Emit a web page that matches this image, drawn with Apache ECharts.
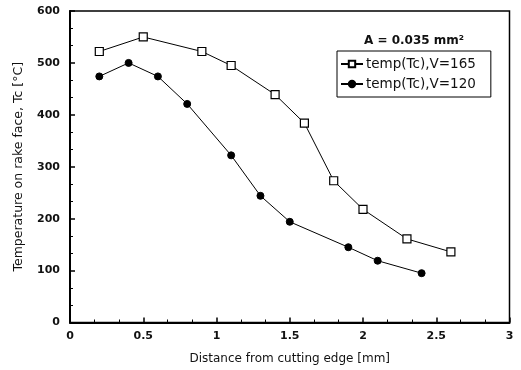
<!DOCTYPE html>
<html><head><meta charset="utf-8">
<script src="https://cdn.jsdelivr.net/npm/echarts@6/dist/echarts.min.js"></script>
<style>html,body{margin:0;padding:0;background:#fff}#c{width:521px;height:370px}</style>
</head><body><div id="c"></div>
<script>
const xV165 = [0.2, 0.5, 0.9, 1.1, 1.4, 1.6, 1.8, 2.0, 2.3, 2.6];
const yV165 = [522, 550, 522, 495, 439, 384, 273, 218, 161, 136];
const xV120 = [0.2, 0.4, 0.6, 0.8, 1.1, 1.3, 1.5, 1.9, 2.1, 2.4];
const yV120 = [474, 500, 474, 421, 322, 244, 194, 145, 119, 95];
const seriesNames = ['temp(Tc),V=165', 'temp(Tc),V=120'];
const xLabels = ['0', '0.5', '1', '1.5', '2', '2.5', '3'];
const yLabels = ['0', '100', '200', '300', '400', '500', '600'];
const titleText = 'A = 0.035 mm²';
const xTitle = 'Distance from cutting edge [mm]';
const yTitle = 'Temperature on rake face, Tc [°C]';

const font = 'DejaVu Sans';
const chart = echarts.init(document.getElementById('c'));
chart.setOption({
  animation: false,
  backgroundColor: '#fff',
  title: {
    text: titleText, left: 414, top: 35, textAlign: 'center', padding: 0,
    textStyle: {fontFamily: font, fontSize: 12, fontWeight: 'bold', color: '#111'}
  },
  legend: {
    orient: 'vertical', left: 337, top: 51,
    padding: [6, 15, 6, 3], itemGap: 6, itemWidth: 22, itemHeight: 8,
    borderColor: '#000', borderWidth: 1,
    data: seriesNames,
    textStyle: {fontFamily: font, fontSize: 13.5, color: '#111', padding: [0,0,0,-2]}
  },
  grid: {left: 70, right: 11.5, top: 11, bottom: 47.5, show: true, borderColor: '#000', borderWidth: 1.5},
  xAxis: {
    type: 'value', min: 0, max: 3, interval: 0.5,
    name: xTitle, nameLocation: 'middle', nameGap: 30,
    nameTextStyle: {fontFamily: font, fontSize: 12, color: '#111'},
    axisLine: {lineStyle: {color: '#000', width: 2}},
    axisTick: {inside: true, length: 5, lineStyle: {color: '#000', width: 1.5}},
    minorTick: {show: true, splitNumber: 3, length: 3, lineStyle: {color: '#000', width: 1}},
    splitLine: {show: false},
    axisLabel: {fontFamily: font, fontSize: 11, fontWeight: 'bold', color: '#111', margin: 8,
      formatter: v => xLabels[Math.round(v * 2)]}
  },
  yAxis: {
    type: 'value', min: 0, max: 600, interval: 100,
    name: yTitle, nameLocation: 'middle', nameGap: 45,
    nameTextStyle: {fontFamily: font, fontSize: 12.5, color: '#111'},
    axisLine: {lineStyle: {color: '#000', width: 2}},
    axisTick: {inside: true, length: 5, lineStyle: {color: '#000', width: 1.5}},
    minorTick: {show: true, splitNumber: 3, length: 3, lineStyle: {color: '#000', width: 1}},
    splitLine: {show: false},
    axisLabel: {fontFamily: font, fontSize: 11, fontWeight: 'bold', color: '#111', margin: 10,
      formatter: v => yLabels[Math.round(v / 100)]}
  },
  series: [
    {
      name: seriesNames[0], type: 'line', symbol: 'rect', symbolSize: 8,
      data: xV165.map((x, i) => [x, yV165[i]]),
      lineStyle: {color: '#000', width: 1},
      itemStyle: {color: '#fff', borderColor: '#000', borderWidth: 1.2}
    },
    {
      name: seriesNames[1], type: 'line', symbol: 'circle', symbolSize: 7,
      data: xV120.map((x, i) => [x, yV120[i]]),
      lineStyle: {color: '#000', width: 1},
      itemStyle: {color: '#000', borderColor: '#000', borderWidth: 1}
    }
  ]
});
</script></body></html>
